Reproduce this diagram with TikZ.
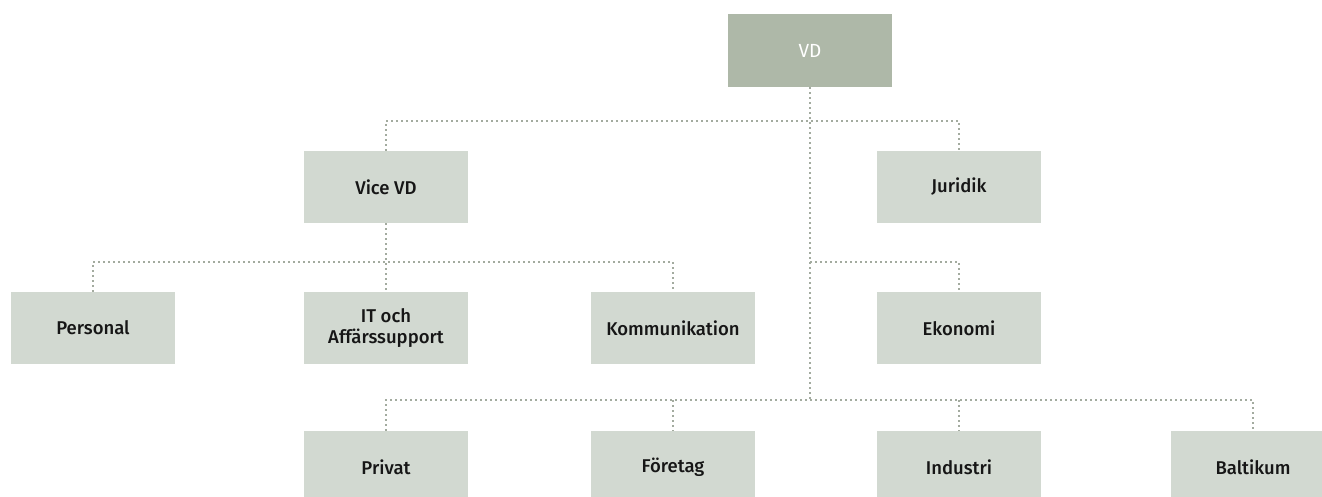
\documentclass[tikz,border=0pt]{standalone}
\usepackage{fontspec}
\setmainfont{Fira Sans}[UprightFont={* Medium}]
\newfontfamily\vdfont{Fira Sans}
\definecolor{boxfill}{HTML}{D2D9D1}
\definecolor{topfill}{HTML}{AEB8A8}
\definecolor{dotcol}{HTML}{A3AB9F}
\definecolor{txt}{HTML}{161616}
\begin{document}
\begin{tikzpicture}[x=1pt,y=-1pt,
  unit/.style={fill=boxfill, minimum width=164pt, minimum height=72pt, inner sep=0pt,
    font=\fontsize{18.5}{21}\selectfont, text=txt, align=center},
  topunit/.style={unit, fill=topfill, text=white, font=\vdfont\fontsize{19}{21}\selectfont, minimum height=73pt},
  dots/.style={draw=dotcol, line width=2pt, dash pattern=on 2pt off 3pt}]
\useasboundingbox (0,0) rectangle (1322,497);
\clip (0,0) rectangle (1322,497);
\node[topunit] (vd) at (810,50.5) {VD};
\node[unit] (vice) at (386,187) {Vice VD};
\node[unit] (jur) at (959,187) {Juridik};
\node[unit] (per) at (93,328) {Personal};
\node[unit] (it) at (386,328) {IT och\\Affärssupport};
\node[unit] (kom) at (673,328) {Kommunikation};
\node[unit] (eko) at (959,328) {Ekonomi};
\node[unit] (prv) at (386,467) {Privat};
\node[unit] (fre) at (673,467) {Företag};
\node[unit] (ind) at (959,467) {Industri};
\node[unit] (bal) at (1253,467) {Baltikum};
\coordinate (t) at (810,121);
\coordinate (m) at (810,262);
\coordinate (bt) at (810,400);
\draw[dots] (vd.south) -- (bt);
\draw[dots] (vice.north) |- (t) -| (jur.north);
\draw[dots] (vice.south) -- (it.north);
\draw[dots] (per.north) |- (kom.north |- m) -- (kom.north);
\draw[dots] (m) -| (eko.north);
\draw[dots] (prv.north) |- (bt) -| (bal.north);
\draw[dots] (fre.north |- bt) -- (fre.north);
\draw[dots] (ind.north |- bt) -- (ind.north);
\end{tikzpicture}
\end{document}
